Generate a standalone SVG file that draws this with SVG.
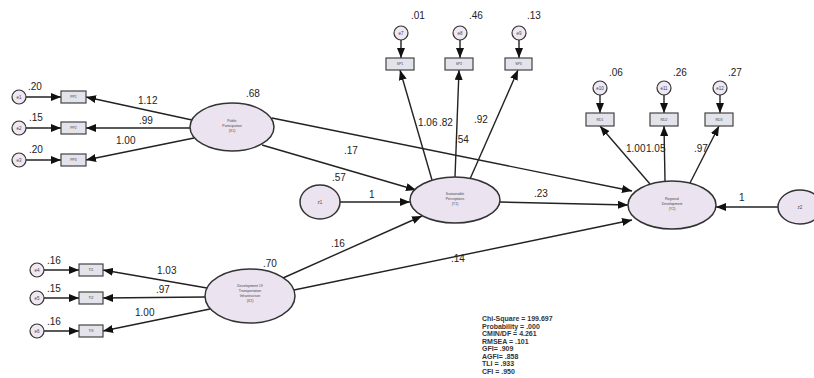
<svg xmlns="http://www.w3.org/2000/svg" width="814" height="378" viewBox="0 0 814 378">
<defs>
<marker id="ah" markerUnits="userSpaceOnUse" markerWidth="10" markerHeight="8" refX="10" refY="4" orient="auto"><path d="M0,0 L10,4 L0,8 z" fill="#111"/></marker>
<style>
.c{stroke:#222;stroke-width:1.4;fill:none;marker-end:url(#ah)}
.lat{fill:#ece3f0;stroke:#333;stroke-width:1.5}
.err{fill:#efe8f2;stroke:#333;stroke-width:1.2}
.obs{fill:#e3e3ec;stroke:#444;stroke-width:1.2}
.t{font-family:"Liberation Sans",Arial,sans-serif;font-size:10px;fill:#222}
.s{font-family:"Liberation Sans",Arial,sans-serif;font-size:3.5px;fill:#444;text-anchor:middle}
.n{font-family:"Liberation Sans",Arial,sans-serif;font-size:4.5px;fill:#444;text-anchor:middle}
.st{font-family:"Liberation Sans",Arial,sans-serif;font-size:7px;font-weight:bold;fill:#333}
</style>
</defs>
<rect width="814" height="378" fill="#fff"/>
<g id="connectors">
<path class="c" d="M192,120 L86,97"/>
<path class="c" d="M190,128 L86,128"/>
<path class="c" d="M194,138 L86,160"/>
<path class="c" d="M26,97 L61,97"/>
<path class="c" d="M26,128 L61,128"/>
<path class="c" d="M26,160 L61,160"/>
<path class="c" d="M207,288 L103,270"/>
<path class="c" d="M205,297 L103,298"/>
<path class="c" d="M210,309 L103,331"/>
<path class="c" d="M44,270 L79,270"/>
<path class="c" d="M44,298 L79,298"/>
<path class="c" d="M44,331 L79,331"/>
<path class="c" d="M262,145 L416,190"/>
<path class="c" d="M272,118 L632,191"/>
<path class="c" d="M340,202 L410,202"/>
<path class="c" d="M283,278 L422,216"/>
<path class="c" d="M294,290 L632,220"/>
<path class="c" d="M500,202 L628,205"/>
<path class="c" d="M778,207 L716,207"/>
<path class="c" d="M432,180 L400,70"/>
<path class="c" d="M455,177 L459,70"/>
<path class="c" d="M470,179 L518,70"/>
<path class="c" d="M401,40 L401,58"/>
<path class="c" d="M460,40 L460,58"/>
<path class="c" d="M519,40 L519,58"/>
<path class="c" d="M650,184 L600,126"/>
<path class="c" d="M665,181 L664,126"/>
<path class="c" d="M690,183 L719,126"/>
<path class="c" d="M600,95 L600,113"/>
<path class="c" d="M664,95 L664,113"/>
<path class="c" d="M720,95 L720,113"/>
</g>
<g id="labels">
<text class="t" x="138" y="104">1.12</text>
<text class="t" x="139" y="124">.99</text>
<text class="t" x="116" y="144">1.00</text>
<text class="t" x="28" y="90">.20</text>
<text class="t" x="29" y="121">.15</text>
<text class="t" x="29" y="153">.20</text>
<text class="t" x="246" y="97">.68</text>
<text class="t" x="157" y="274">1.03</text>
<text class="t" x="156" y="293">.97</text>
<text class="t" x="135" y="316">1.00</text>
<text class="t" x="47" y="264">.16</text>
<text class="t" x="47" y="292">.15</text>
<text class="t" x="47" y="325">.16</text>
<text class="t" x="263" y="267">.70</text>
<text class="t" x="344" y="154">.17</text>
<text class="t" x="332" y="181">.57</text>
<text class="t" x="369" y="198">1</text>
<text class="t" x="331" y="247">.16</text>
<text class="t" x="451" y="262">.14</text>
<text class="t" x="534" y="197">.23</text>
<text class="t" x="455" y="143">.54</text>
<text class="t" x="418" y="126">1.06</text>
<text class="t" x="439" y="126">.82</text>
<text class="t" x="474" y="123">.92</text>
<text class="t" x="411" y="19">.01</text>
<text class="t" x="469" y="19">.46</text>
<text class="t" x="527" y="19">.13</text>
<text class="t" x="609" y="76">.06</text>
<text class="t" x="673" y="76">.26</text>
<text class="t" x="728" y="76">.27</text>
<text class="t" x="626" y="152">1.00</text>
<text class="t" x="646" y="152">1.05</text>
<text class="t" x="694" y="152">.97</text>
<text class="t" x="739" y="201">1</text>
</g>
<g id="e1"><circle class="err" cx="19" cy="97" r="7"/><text class="n" x="19" y="98.5">e1</text></g>
<g id="e2"><circle class="err" cx="19" cy="128" r="7"/><text class="n" x="19" y="129.5">e2</text></g>
<g id="e3"><circle class="err" cx="19" cy="160" r="7"/><text class="n" x="19" y="161.5">e3</text></g>
<g id="pp1"><rect class="obs" x="61" y="91" width="25" height="12"/><text class="s" x="73.5" y="98">PP1</text></g>
<g id="pp2"><rect class="obs" x="61" y="122" width="25" height="12"/><text class="s" x="73.5" y="129">PP2</text></g>
<g id="pp3"><rect class="obs" x="61" y="154" width="25" height="12"/><text class="s" x="73.5" y="161">PP3</text></g>
<g id="x1"><ellipse class="lat" cx="232" cy="127" rx="42" ry="24"/><text class="s" x="232" y="122">Public</text><text class="s" x="232" y="127">Participation</text><text class="s" x="232" y="132">(X1)</text></g>
<g id="e4"><circle class="err" cx="37" cy="270" r="7"/><text class="n" x="37" y="271.5">e4</text></g>
<g id="e5"><circle class="err" cx="37" cy="298" r="7"/><text class="n" x="37" y="299.5">e5</text></g>
<g id="e6"><circle class="err" cx="37" cy="331" r="7"/><text class="n" x="37" y="332.5">e6</text></g>
<g id="ti1"><rect class="obs" x="79" y="264" width="24" height="12"/><text class="s" x="91" y="271">TI1</text></g>
<g id="ti2"><rect class="obs" x="79" y="292" width="24" height="12"/><text class="s" x="91" y="299">TI2</text></g>
<g id="ti3"><rect class="obs" x="79" y="325" width="24" height="12"/><text class="s" x="91" y="332">TI3</text></g>
<g id="x2"><ellipse class="lat" cx="250" cy="296" rx="45" ry="27"/><text class="s" x="250" y="287">Development Of</text><text class="s" x="250" y="292">Transportation</text><text class="s" x="250" y="297">Infrastructure</text><text class="s" x="250" y="302">(X2)</text></g>
<g id="z1"><ellipse class="lat" cx="320" cy="202" rx="20" ry="17"/><text class="n" x="320" y="203.5">z1</text></g>
<g id="y1"><ellipse class="lat" cx="455" cy="200" rx="45" ry="23"/><text class="s" x="455" y="195">Sustainable</text><text class="s" x="455" y="200">Perceptions</text><text class="s" x="455" y="205">(Y1)</text></g>
<g id="e7"><circle class="err" cx="401" cy="33" r="7"/><text class="n" x="401" y="34.5">e7</text></g>
<g id="e8"><circle class="err" cx="460" cy="33" r="7"/><text class="n" x="460" y="34.5">e8</text></g>
<g id="e9"><circle class="err" cx="519" cy="33" r="7"/><text class="n" x="519" y="34.5">e9</text></g>
<g id="sp1"><rect class="obs" x="386" y="58" width="28" height="12"/><text class="s" x="400" y="65">SP1</text></g>
<g id="sp2"><rect class="obs" x="445" y="58" width="28" height="12"/><text class="s" x="459" y="65">SP2</text></g>
<g id="sp3"><rect class="obs" x="505" y="58" width="27" height="12"/><text class="s" x="518.5" y="65">SP3</text></g>
<g id="y2"><ellipse class="lat" cx="672" cy="205" rx="44" ry="24"/><text class="s" x="672" y="200">Regional</text><text class="s" x="672" y="205">Development</text><text class="s" x="672" y="210">(Y2)</text></g>
<g id="z2"><ellipse class="lat" cx="800" cy="207" rx="22" ry="17"/><text class="n" x="800" y="208.5">z2</text></g>
<g id="e10"><circle class="err" cx="600" cy="88" r="7"/><text class="n" x="600" y="89.5">e10</text></g>
<g id="e11"><circle class="err" cx="664" cy="88" r="7"/><text class="n" x="664" y="89.5">e11</text></g>
<g id="e12"><circle class="err" cx="720" cy="88" r="7"/><text class="n" x="720" y="89.5">e12</text></g>
<g id="rd1"><rect class="obs" x="586" y="113" width="28" height="13"/><text class="s" x="600" y="120.5">RD1</text></g>
<g id="rd2"><rect class="obs" x="650" y="113" width="28" height="13"/><text class="s" x="664" y="120.5">RD2</text></g>
<g id="rd3"><rect class="obs" x="705" y="113" width="28" height="13"/><text class="s" x="719" y="120.5">RD3</text></g>
<g id="stats">
<text class="st" x="482" y="321">Chi-Square = 199.697</text>
<text class="st" x="482" y="328.5">Probability = .000</text>
<text class="st" x="482" y="336">CMIN/DF = 4.261</text>
<text class="st" x="482" y="343.5">RMSEA = .101</text>
<text class="st" x="482" y="351">GFI= .909</text>
<text class="st" x="482" y="358.5">AGFI= .858</text>
<text class="st" x="482" y="366">TLI = .933</text>
<text class="st" x="482" y="373.5">CFI = .950</text>
</g>
</svg>
